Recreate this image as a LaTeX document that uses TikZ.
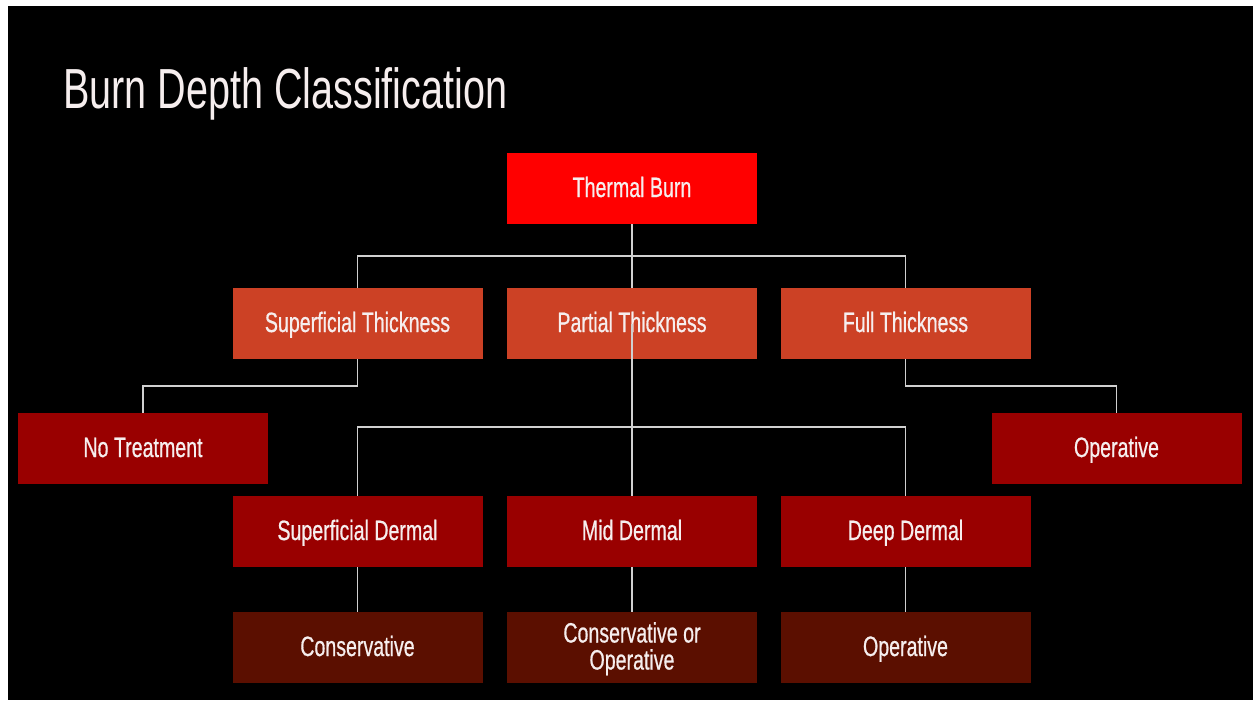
\documentclass[tikz,border=0pt]{standalone}
\usepackage{fontspec}
\setmainfont{Liberation Sans}[FakeStretch=0.7]
\newfontfamily\boxfont{Liberation Sans}[FakeStretch=0.7,FakeBold=0.6]
\definecolor{bgblack}{HTML}{000000}
\definecolor{tbred}{HTML}{FF0000}
\definecolor{berry}{HTML}{CC4125}
\definecolor{darkberry}{HTML}{990000}
\definecolor{deepberry}{HTML}{5B0F00}
\definecolor{txt}{HTML}{F6EEEE}
\definecolor{linegray}{HTML}{D0D0D0}
\tikzset{
  nodebox/.style={rectangle, minimum width=250pt, minimum height=71pt, inner sep=0pt,
    text=txt, font=\boxfont\fontsize{28}{27}\selectfont, align=center,
    text height=20pt, text depth=3pt},
  lvla/.style={nodebox, fill=tbred},
  lvlb/.style={nodebox, fill=berry},
  lvlc/.style={nodebox, fill=darkberry},
  lvld/.style={nodebox, fill=deepberry},
  conn/.style={draw=linegray, line width=1.1pt}
}
\begin{document}
\begin{tikzpicture}[x=1pt,y=-1pt]
\useasboundingbox (0,0) rectangle (1253,702);
\fill[white] (0,0) rectangle (1253,702);
\fill[bgblack] (8,6) rectangle (1253,700);

\node[anchor=base west, text=txt, inner sep=0pt, font=\fontsize{56.5}{56}\selectfont] (title) at (63,108) {Burn Depth Classification};

\node[lvla] (TB) at (632,188.5) {Thermal Burn};
\node[lvlb] (ST) at (357.5,323.5) {Superficial Thickness};
\node[lvlb] (PT) at (632,323.5) {Partial Thickness};
\node[lvlb] (FT) at (905.5,323.5) {Full Thickness};
\node[lvlc] (NT) at (143,448.5) {No Treatment};
\node[lvlc] (OP) at (1116.5,448.5) {Operative};
\node[lvlc] (SD) at (357.5,531.5) {Superficial Dermal};
\node[lvlc] (MD) at (632,531.5) {Mid Dermal};
\node[lvlc] (DD) at (905.5,531.5) {Deep Dermal};
\node[lvld] (C1) at (357.5,647.5) {Conservative};
\node[lvld, text height=47pt] (C2) at (632,647.5) {Conservative or\\Operative};
\node[lvld] (C3) at (905.5,647.5) {Operative};

\coordinate (b1) at (632,256);
\coordinate (b2) at (632,427);
\coordinate (b3) at (357.5,386);
\coordinate (b4) at (905.5,386);

\draw[conn] (TB.south) -- (PT.north);
\draw[conn] (ST.north) |- (b1) -| (FT.north);
\draw[conn] (PT.center) -- (MD.north);
\draw[conn] (SD.north) |- (b2) -| (DD.north);
\draw[conn] (ST.south) -- (b3) -| (NT.north);
\draw[conn] (FT.south) -- (b4) -| (OP.north);
\draw[conn] (SD.south) -- (C1.north);
\draw[conn] (MD.south) -- (C2.north);
\draw[conn] (DD.south) -- (C3.north);
\end{tikzpicture}
\end{document}
